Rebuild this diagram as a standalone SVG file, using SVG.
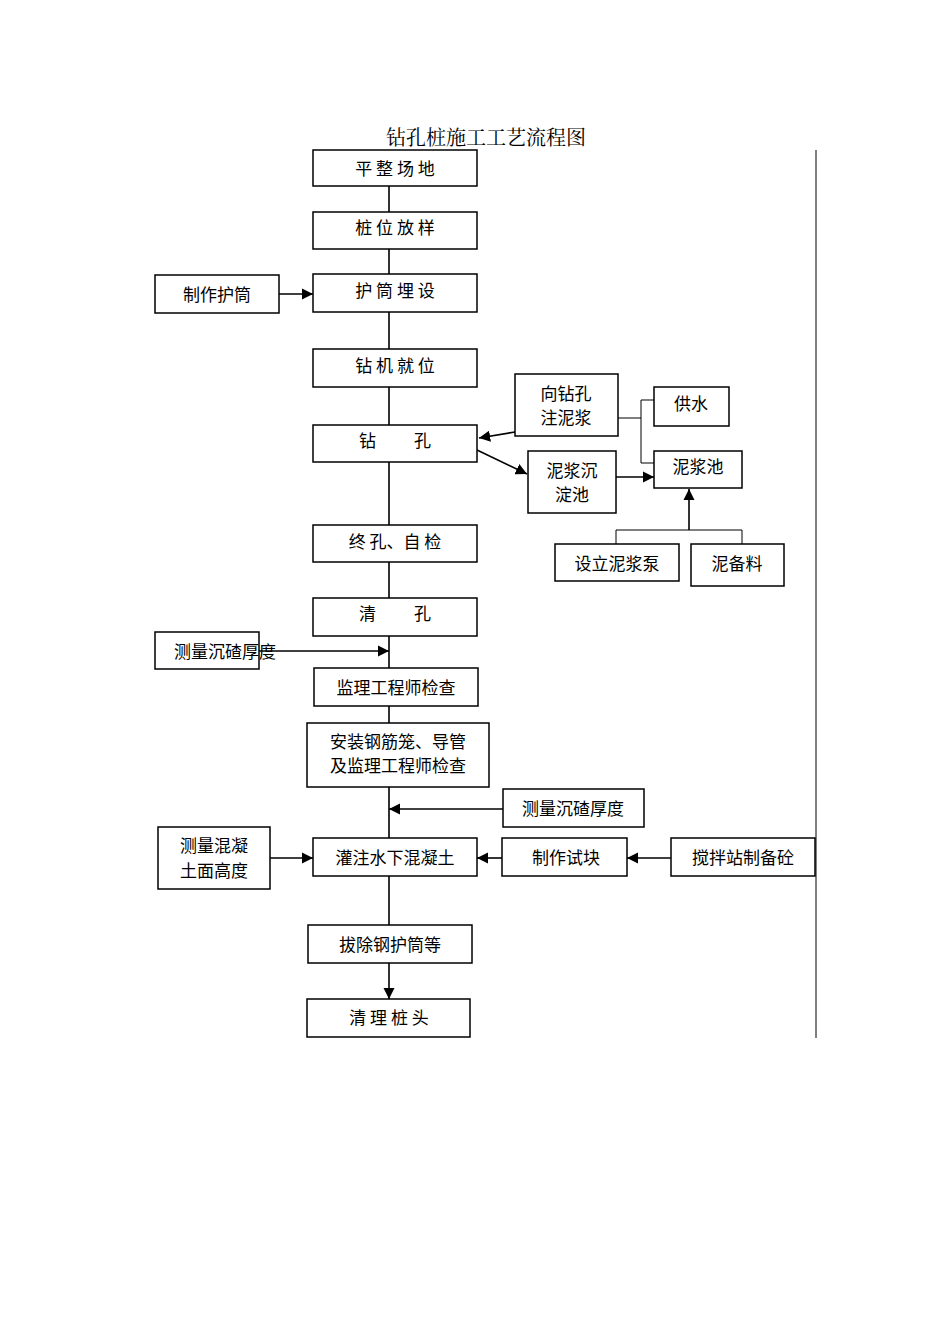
<svg xmlns="http://www.w3.org/2000/svg" width="950" height="1344" viewBox="0 0 950 1344">
<style>
.b{fill:#fff;stroke:#000;stroke-width:1.5}
.t{font-family:"Noto Sans CJK SC",sans-serif;font-size:17px;text-anchor:middle;fill:#000}
.c{stroke:#000;stroke-width:1.6;fill:none}
.th{stroke:#000;stroke-width:1;fill:none}
</style>
<defs><marker id="a" viewBox="0 0 10 10" refX="10" refY="5" markerWidth="7" markerHeight="7" orient="auto"><path d="M0,0L10,5L0,10z" fill="#000"/></marker></defs>
<rect width="950" height="1344" fill="#fff"/>
<text x="486" y="145" style="font-family:'Noto Serif CJK SC','Noto Sans CJK SC',serif;font-size:20px;text-anchor:middle">钻孔桩施工工艺流程图</text>
<line x1="816" y1="150" x2="816" y2="1038" class="th"/>
<g id="connectors">
<path class="c" marker-end="url(#a)" d="M389,186V212M389,249V274M389,312V349M389,387V425M389,462V525M389,562V598M389,636V668M389,706V723M389,787V838M389,876V925M389,963V999"/>
<path class="c" marker-end="url(#a)" d="M279,294H313"/>
<path class="c" marker-end="url(#a)" d="M515,432L479,438"/>
<path class="c" marker-end="url(#a)" d="M477,450L527,474"/>
<path class="c" marker-end="url(#a)" d="M616,477H654"/>
<path class="th" d="M606,418H641M641,400V463H654M641,400H654"/>
<path class="c" marker-end="url(#a)" d="M689,530V489"/>
<path class="th" d="M616,544V530H742V544"/>
<path class="c" marker-end="url(#a)" d="M259,651H389"/>
<path class="c" marker-end="url(#a)" d="M503,809H389"/>
<path class="c" marker-end="url(#a)" d="M270,858H313"/>
<path class="c" marker-end="url(#a)" d="M502,858H477"/>
<path class="c" marker-end="url(#a)" d="M671,858H627"/>
</g>
<g id="n1"><rect class="b" x="313" y="150" width="164" height="36"/><text class="t" x="395" y="175">平 整 场 地</text></g>
<g id="n2"><rect class="b" x="313" y="212" width="164" height="37"/><text class="t" x="395" y="234">桩 位 放 样</text></g>
<g id="n3"><rect class="b" x="313" y="274" width="164" height="38"/><text class="t" x="395" y="297">护 筒 埋 设</text></g>
<g id="n4"><rect class="b" x="155" y="275" width="124" height="38"/><text class="t" x="217" y="301">制作护筒</text></g>
<g id="n5"><rect class="b" x="313" y="349" width="164" height="38"/><text class="t" x="395" y="372">钻 机 就 位</text></g>
<g id="n6"><rect class="b" x="313" y="425" width="164" height="37"/><text class="t" x="395" y="447" xml:space="preserve">钻          孔</text></g>
<g id="n7"><rect class="b" x="515" y="374" width="103" height="62"/><text class="t" x="566" y="400">向钻孔</text><text class="t" x="566" y="424">注泥浆</text></g>
<g id="n8"><rect class="b" x="654" y="387" width="75" height="39"/><text class="t" x="691" y="410">供水</text></g>
<g id="n9"><rect class="b" x="528" y="451" width="88" height="62"/><text class="t" x="572" y="477">泥浆沉</text><text class="t" x="572" y="501">淀池</text></g>
<g id="n10"><rect class="b" x="654" y="451" width="88" height="37"/><text class="t" x="698" y="473">泥浆池</text></g>
<g id="n11"><rect class="b" x="555" y="544" width="124" height="37"/><text class="t" x="617" y="570">设立泥浆泵</text></g>
<g id="n12"><rect class="b" x="691" y="544" width="93" height="42"/><text class="t" x="737" y="570">泥备料</text></g>
<g id="n13"><rect class="b" x="313" y="525" width="164" height="37"/><text class="t" x="395" y="548">终 孔、自 检</text></g>
<g id="n14"><rect class="b" x="313" y="598" width="164" height="38"/><text class="t" x="395" y="620" xml:space="preserve">清          孔</text></g>
<g id="n15"><rect class="b" x="155" y="632" width="104" height="37"/><text class="t" x="225" y="658">测量沉碴厚度</text></g>
<g id="n16"><rect class="b" x="314" y="668" width="164" height="38"/><text class="t" x="396" y="694">监理工程师检查</text></g>
<g id="n17"><rect class="b" x="307" y="723" width="182" height="64"/><text class="t" x="398" y="748">安装钢筋笼、导管</text><text class="t" x="398" y="772">及监理工程师检查</text></g>
<g id="n18"><rect class="b" x="503" y="789" width="141" height="38"/><text class="t" x="573" y="815">测量沉碴厚度</text></g>
<g id="n19"><rect class="b" x="158" y="827" width="112" height="62"/><text class="t" x="214" y="852">测量混凝</text><text class="t" x="214" y="877">土面高度</text></g>
<g id="n20"><rect class="b" x="313" y="838" width="164" height="38"/><text class="t" x="395" y="864">灌注水下混凝土</text></g>
<g id="n21"><rect class="b" x="502" y="838" width="125" height="38"/><text class="t" x="566" y="864">制作试块</text></g>
<g id="n22"><rect class="b" x="671" y="838" width="144" height="38"/><text class="t" x="743" y="864">搅拌站制备砼</text></g>
<g id="n23"><rect class="b" x="308" y="925" width="164" height="38"/><text class="t" x="390" y="951">拔除钢护筒等</text></g>
<g id="n24"><rect class="b" x="307" y="999" width="163" height="38"/><text class="t" x="389" y="1024">清 理 桩 头</text></g>
</svg>
